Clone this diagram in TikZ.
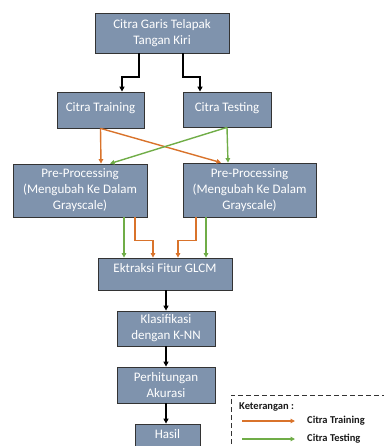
\documentclass[tikz,border=0pt]{standalone}
\usepackage{fontspec}
\setmainfont{Carlito}
\usetikzlibrary{calc,arrows.meta}
\definecolor{boxfill}{HTML}{7F93AD}
\definecolor{trainorange}{HTML}{D9732B}
\definecolor{testgreen}{HTML}{70AD47}
\begin{document}
\begin{tikzpicture}[x=1pt,y=-1pt,
		stepbox/.style={draw=black!80, line width=0.8pt, fill=boxfill, text=white, align=center,
			font=\fontsize{13}{16}\selectfont, inner sep=0pt},
		blk/.style={line width=1.8pt, -{Triangle[length=5pt,width=5pt]}},
		train/.style={trainorange, line width=1.4pt, -{Triangle[length=4.5pt,width=4.5pt]}},
		test/.style={testgreen, line width=1.4pt, -{Triangle[length=4.5pt,width=4.5pt]}},
		legtext/.style={font=\fontsize{10.5}{12}\selectfont\bfseries, text=black!90, anchor=west, inner sep=0pt}]
			%%%%% START %%%%%
			
			\useasboundingbox (0,0) rectangle (383,446);
			
			\node[stepbox, minimum width=134, minimum height=40] (citra) at (162,33) {Citra Garis Telapak\\Tangan Kiri};
			
			\node[stepbox, minimum width=87, minimum height=36, text depth=6pt] (training) at (100.5,110) {Citra Training};
			\node[stepbox, minimum width=88, minimum height=35, text depth=4pt] (testing) at (227,109.5) {Citra Testing};
			
			\node[stepbox, minimum width=134, minimum height=53] (preL) at (80,190.5) {Pre-Processing\\(Mengubah Ke Dalam\\Grayscale)};
			\node[stepbox, minimum width=133, minimum height=54] (preR) at (249.5,190) {Pre-Processing\\(Mengubah Ke Dalam\\Grayscale)};
			
			\node[stepbox, minimum width=134, minimum height=32, text depth=12pt] (glcm) at (165,274) {Ektraksi Fitur GLCM};
			\node[stepbox, minimum width=98, minimum height=35] (knn) at (166,328.5) {Klasifikasi\\dengan K-NN};
			\node[stepbox, minimum width=98, minimum height=36] (akurasi) at (166,385) {Perhitungan\\Akurasi};
			\node[stepbox, minimum width=65, minimum height=26, text depth=6pt] (hasil) at (167.5,437) {Hasil};
			
			% citra -> training / testing
			\draw[blk] ($(citra.south)+(-23,0)$) -- ++(0,24) -| ($(training.north)+(21.5,0)$);
			\draw[blk] ($(citra.south)+(21,0)$) -- ++(0,24) -| ($(testing.north)+(-27,0)$);
			
			% training / testing -> pre-processing
			\draw[train] (training.south) -- ($(preL.north)+(21,0)$);
			\draw[train] (training.south) -- ($(preR.north)+(-28.5,0)$);
			\draw[test] (testing.south) -- ($(preR.north)+(-21.5,0)$);
			\draw[test] (testing.south) -- ($(preL.north)+(30,0)$);
			
			% pre-processing -> ekstraksi
			\draw[test] ($(preL.south)+(44,0)$) -- ($(glcm.north)+(-41,0)$);
			\draw[train] ($(preL.south)+(55,0)$) -- ++(0,23) -| ($(glcm.north)+(-12,0)$);
			\draw[train] ($(preR.south)+(-53.5,0)$) -- ++(0,23) -| ($(glcm.north)+(13,0)$);
			\draw[test] ($(preR.south)+(-43.5,0)$) -- ($(glcm.north)+(41,0)$);
			
			\draw[blk] ($(glcm.south)+(1,0)$) -- (knn.north);
			\draw[blk] (knn.south) -- (akurasi.north);
			\draw[blk] (akurasi.south) -- ($(hasil.north)+(-1.5,0)$);
			
			% keterangan
			\draw[black!80, line width=0.8pt, dash pattern=on 5pt off 3pt] (231,460) -- (231,395) -- (392,395);
			\node[legtext] (ket) at (239,407) {Keterangan :};
			\coordinate (trA) at (242,421);
			\coordinate (trB) at (295,421);
			\coordinate (teA) at (242,439);
			\coordinate (teB) at (295,439);
			\draw[train, line width=2.2pt] (trA) -- (trB);
			\draw[test, line width=2.2pt] (teA) -- (teB);
			\node[legtext] (ketTrain) at (307,421) {Citra Training};
			\node[legtext] (ketTest) at (307,439) {Citra Testing};
			
			%%%%% END %%%%%
		\end{tikzpicture}
\end{document}
